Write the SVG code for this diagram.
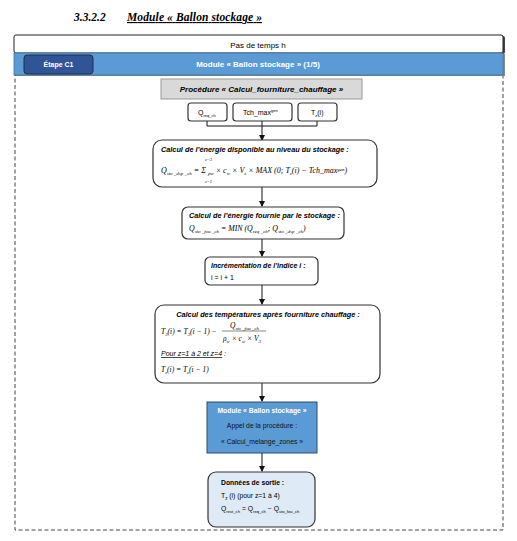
<svg xmlns="http://www.w3.org/2000/svg" width="517" height="541" viewBox="0 0 517 541">
<style>
.s{font-family:"Liberation Sans",Arial,sans-serif}
.m{font-family:"Liberation Serif","Times New Roman",serif;font-style:italic}
.bi{font-weight:bold;font-style:italic}
.node{fill:#fff;stroke:#333;stroke-width:1.2}
.ln{stroke:#111;stroke-width:1;fill:none}
</style>
<defs>
<marker id="ah" markerWidth="6" markerHeight="6" refX="5" refY="3" orient="auto" markerUnits="userSpaceOnUse">
<path d="M0,0 L6,3 L0,6 z" fill="#111"/>
</marker>
</defs>
<rect width="517" height="541" fill="#fff"/>
<g id="title">
<text x="74" y="21" font-family="Liberation Serif,serif" font-weight="bold" font-style="italic" font-size="11.5">3.3.2.2</text>
<text x="127" y="21" font-family="Liberation Serif,serif" font-weight="bold" font-style="italic" font-size="11.5" text-decoration="underline" textLength="135">Module « Ballon stockage »</text>
</g>
<g id="frame">
<rect x="15" y="75" width="488" height="455" fill="none" stroke="#444" stroke-width="1" stroke-dasharray="4,2.5"/>
<rect x="16" y="36" width="489" height="18" rx="2" fill="#444"/>
<rect x="14" y="35" width="489" height="18" rx="2" fill="#fff" stroke="#222" stroke-width="1"/>
<text x="258" y="47.5" class="s" font-size="8" text-anchor="middle">Pas de temps h</text>
<rect x="16" y="54" width="489" height="22" fill="#888"/>
<rect x="14" y="53" width="489" height="22" fill="#5B9BD5" stroke="#41719C" stroke-width="0.8"/>
<text x="258" y="66.5" class="s" font-size="8" font-weight="bold" fill="#fff" text-anchor="middle">Module « Ballon stockage » (1/5)</text>
</g>
<g id="etape">
<rect x="24" y="55" width="69" height="19" rx="3" fill="#2F5597" stroke="#1F2F4F" stroke-width="1"/>
<text x="58.5" y="67" class="s" font-size="7" font-weight="bold" fill="#fff" text-anchor="middle">Étape C1</text>
</g>
<g id="connectors">
<path class="ln" d="M207,121 V126 M262,121 V126 M317,121 V126 M207,126 H317"/>
<path class="ln" d="M262,126 V140" marker-end="url(#ah)"/>
<path class="ln" d="M262,187 V206" marker-end="url(#ah)"/>
<path class="ln" d="M262,239 V256" marker-end="url(#ah)"/>
<path class="ln" d="M262,285 V304" marker-end="url(#ah)"/>
<path class="ln" d="M262,383 V401" marker-end="url(#ah)"/>
<path class="ln" d="M262,453 V471" marker-end="url(#ah)"/>
</g>
<g id="procedure">
<rect x="161" y="79" width="201" height="20" fill="#D9D9D9" stroke="#999" stroke-width="1"/>
<text x="261.5" y="92" class="s bi" font-size="8" text-anchor="middle">Procédure « Calcul_fourniture_chauffage »</text>
</g>
<g id="in-q">
<rect x="188" y="103" width="39" height="18" rx="3" class="node"/>
<text x="198" y="115" class="s" font-size="7">Q<tspan font-size="4" dy="1.5">req_ch</tspan></text>
</g>
<g id="in-tch">
<rect x="233" y="103" width="59" height="18" rx="3" class="node"/>
<text x="243" y="115" class="s" font-size="7">Tch_max<tspan font-size="4" dy="-3">gen</tspan></text>
</g>
<g id="in-tz">
<rect x="298" y="103" width="39" height="18" rx="3" class="node"/>
<text x="311" y="115" class="s" font-size="7">T<tspan font-size="4" dy="1.5">z</tspan><tspan dy="-1.5">(i)</tspan></text>
</g>
<g id="calc-dispo">
<rect x="153" y="140" width="224" height="47" rx="9" class="node"/>
<text x="161" y="152" class="s bi" font-size="7.3">Calcul de l’énergie disponible au niveau du stockage :</text>
<text x="205" y="161" class="m" font-size="4.5">z=3</text>
<text x="205" y="183" class="m" font-size="4.5">z=1</text>
<text x="161" y="173" class="m" font-size="8">Q<tspan font-size="5" dy="1.5">sto _dsp _ch</tspan><tspan dy="-1.5"> = Σ </tspan><tspan font-size="5" dy="1.5">ρw</tspan><tspan dy="-1.5"> × c</tspan><tspan font-size="5" dy="1.5">w</tspan><tspan dy="-1.5"> × V</tspan><tspan font-size="5" dy="1.5">z</tspan><tspan dy="-1.5"> × MAX (0; T</tspan><tspan font-size="5" dy="1.5">z</tspan><tspan dy="-1.5">(i) − Tch_max</tspan><tspan font-size="5" dy="-2.5">gen</tspan><tspan dy="2.5">)</tspan></text>
</g>
<g id="calc-fournie">
<rect x="182" y="207" width="162" height="32" rx="6" class="node"/>
<text x="189" y="218" class="s bi" font-size="7.3">Calcul de l’énergie fournie par le stockage :</text>
<text x="189" y="231" class="m" font-size="7.8">Q<tspan font-size="5" dy="1.5">sto _fou _ch</tspan><tspan dy="-1.5"> = MIN (Q</tspan><tspan font-size="5" dy="1.5">req _ch</tspan><tspan dy="-1.5">; Q</tspan><tspan font-size="5" dy="1.5">sto _dsp _ch</tspan><tspan dy="-1.5">)</tspan></text>
</g>
<g id="increment">
<rect x="205" y="257" width="113" height="28" rx="5" class="node"/>
<text x="211" y="268" class="s bi" font-size="7">Incrémentation de l’indice i :</text>
<text x="211" y="280" class="s" font-size="7">i = i + 1</text>
</g>
<g id="calc-temp">
<rect x="155" y="305" width="225" height="78" rx="9" class="node"/>
<text x="268" y="317" class="s bi" font-size="7.3" text-anchor="middle">Calcul des températures après fourniture chauffage :</text>
<text x="161" y="334" class="m" font-size="7.5">T<tspan font-size="4.8" dy="1.5">3</tspan><tspan dy="-1.5">(i) = T</tspan><tspan font-size="4.8" dy="1.5">3</tspan><tspan dy="-1.5">(i − 1) −</tspan></text>
<text x="230" y="328" class="m" font-size="7.5">Q<tspan font-size="4.8" dy="1.5">sto _fou _ch</tspan></text>
<line x1="222" y1="331" x2="266" y2="331" stroke="#111" stroke-width="0.5"/>
<text x="223" y="341" class="m" font-size="7.5">ρ<tspan font-size="4.8" dy="1.5">w</tspan><tspan dy="-1.5"> × c</tspan><tspan font-size="4.8" dy="1.5">w</tspan><tspan dy="-1.5"> × V</tspan><tspan font-size="4.8" dy="1.5">3</tspan></text>
<text x="161" y="356" class="s" font-size="7" font-style="italic"><tspan text-decoration="underline">Pour z=1 à 2 et z=4</tspan> :</text>
<text x="161" y="372" class="m" font-size="7.5">T<tspan font-size="4.8" dy="1.5">z</tspan><tspan dy="-1.5">(i) = T</tspan><tspan font-size="4.8" dy="1.5">z</tspan><tspan dy="-1.5">(i − 1)</tspan></text>
</g>
<g id="module-call">
<rect x="207" y="402" width="110" height="51" fill="#5B9BD5" stroke="#2E4A6B" stroke-width="1"/>
<text x="262" y="413" class="s" font-size="6.8" font-weight="bold" fill="#fff" text-anchor="middle">Module « Ballon stockage »</text>
<text x="262" y="428" class="s" font-size="6.8" fill="#111" text-anchor="middle">Appel de la procédure :</text>
<text x="262" y="444" class="s" font-size="6.8" fill="#111" text-anchor="middle">« Calcul_melange_zones »</text>
</g>
<g id="sortie">
<rect x="208" y="472" width="107" height="55" rx="8" fill="#DEEBF7" stroke="#333" stroke-width="1.2"/>
<text x="221" y="485" class="s" font-size="6.8" font-weight="bold">Données de sortie :</text>
<text x="221" y="498" class="s" font-size="6.8">T<tspan font-size="4.5" dy="1.5">z</tspan><tspan dy="-1.5"> (i) (pour z=1 à 4)</tspan></text>
<text x="221" y="511" class="s" font-size="6.8">Q<tspan font-size="4.2" dy="1.5">rest_ch</tspan><tspan dy="-1.5"> = Q</tspan><tspan font-size="4.2" dy="1.5">req_ch</tspan><tspan dy="-1.5"> − Q</tspan><tspan font-size="4.2" dy="1.5">sto_fou_ch</tspan></text>
</g>
</svg>
